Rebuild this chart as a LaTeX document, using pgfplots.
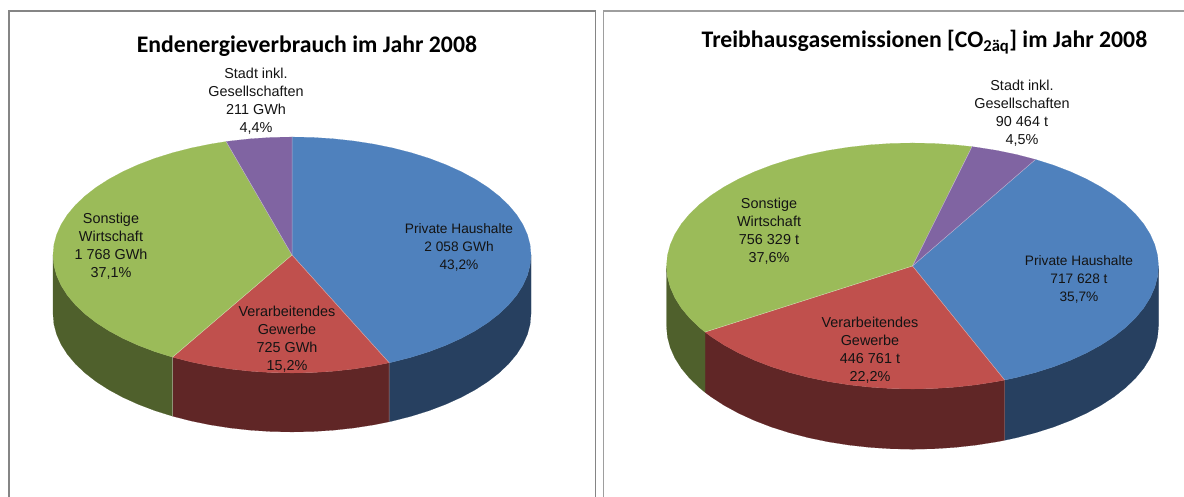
\documentclass[border=0pt]{standalone}
\usepackage{pgfplots}
\pgfplotsset{compat=1.18}
\usepackage{fontspec}
\setmainfont{Liberation Sans}
\newfontfamily\titlefont{Carlito}

\definecolor{cblue}{HTML}{4F81BD}
\definecolor{cred}{HTML}{C0504D}
\definecolor{cgreen}{HTML}{9BBB59}
\definecolor{cviolet}{HTML}{8064A2}
\definecolor{dblue}{RGB}{39,64,96}
\definecolor{dred}{RGB}{96,38,38}
\definecolor{dgreen}{RGB}{79,96,44}

\pgfplotsset{
  pie/.style={
    anchor=center, scale only axis, hide axis, clip=false, no markers,
    xmin=-1, xmax=1, ymin=-1, ymax=1,
  },
  slice/.style={fill=#1, draw=#1, line width=0.1pt},
  edge/.style={draw=white, draw opacity=0.45, line width=0.5pt},
}
\newcommand{\lab}[4][14.4]{\node[align=center, font=\fontsize{#1}{18}\selectfont, text=black!92] at (#2,495.5-#3) {#4};}

\begin{document}
\begin{tikzpicture}[x=1pt,y=1pt]
\path[use as bounding box] (0,0) rectangle (1184,497);
\clip (0,0) rectangle (1184,497);
\fill[white] (0,0) rectangle (1184,497);

% frames
\draw[black!48, line width=1.2pt] (9,-5) rectangle (595.5,486);
\draw[black!38, line width=1.6pt] (603.5,-5) rectangle (1195,486);

% Endenergieverbrauch
\begin{axis}[pie, at={(292pt,242pt)}, width=478pt, height=236pt]
% sides
\addplot[slice=dblue] coordinates {
 (1,0) (.9962,-.0872) (.9848,-.1736) (.9659,-.2588) (.9397,-.3420) (.9063,-.4226) (.8660,-.5) (.8192,-.5736)
 (.7660,-.6428) (.7071,-.7071) (.6428,-.7660) (.5736,-.8192) (.5,-.8660) (.4226,-.9063) (.4067,-.9135)
 (.4067,-1.4135) (.4226,-1.4063) (.5,-1.3660) (.5736,-1.3192) (.6428,-1.2660) (.7071,-1.2071) (.7660,-1.1428)
 (.8192,-1.0736) (.8660,-1.0) (.9063,-.9226) (.9397,-.8420) (.9659,-.7588) (.9848,-.6736) (.9962,-.5872) (1,-.5)
} -- cycle;
\addplot[slice=dred] coordinates {
 (.4067,-.9135) (.3420,-.9397) (.2588,-.9659) (.1736,-.9848) (.0872,-.9962) (0,-1) (-.0872,-.9962) (-.1736,-.9848)
 (-.2588,-.9659) (-.3420,-.9397) (-.4226,-.9063) (-.5,-.8660)
 (-.5,-1.3660) (-.4226,-1.4063) (-.3420,-1.4397) (-.2588,-1.4659) (-.1736,-1.4848) (-.0872,-1.4962) (0,-1.5)
 (.0872,-1.4962) (.1736,-1.4848) (.2588,-1.4659) (.3420,-1.4397) (.4067,-1.4135)
} -- cycle;
\addplot[slice=dgreen] coordinates {
 (-.5,-.8660) (-.5736,-.8192) (-.6428,-.7660) (-.7071,-.7071) (-.7660,-.6428) (-.8192,-.5736) (-.8660,-.5)
 (-.9063,-.4226) (-.9397,-.3420) (-.9659,-.2588) (-.9848,-.1736) (-.9962,-.0872) (-1,0)
 (-1,-.5) (-.9962,-.5872) (-.9848,-.6736) (-.9659,-.7588) (-.9397,-.8420) (-.9063,-.9226) (-.8660,-1.0)
 (-.8192,-1.0736) (-.7660,-1.1428) (-.7071,-1.2071) (-.6428,-1.2660) (-.5736,-1.3192) (-.5,-1.3660)
} -- cycle;
% top
\addplot[slice=cblue] coordinates {
 (0,0) (0,1) (.0872,.9962) (.1736,.9848) (.2588,.9659) (.3420,.9397) (.4226,.9063) (.5,.8660) (.5736,.8192)
 (.6428,.7660) (.7071,.7071) (.7660,.6428) (.8192,.5736) (.8660,.5) (.9063,.4226) (.9397,.3420) (.9659,.2588)
 (.9848,.1736) (.9962,.0872) (1,0) (.9962,-.0872) (.9848,-.1736) (.9659,-.2588) (.9397,-.3420) (.9063,-.4226)
 (.8660,-.5) (.8192,-.5736) (.7660,-.6428) (.7071,-.7071) (.6428,-.7660) (.5736,-.8192) (.5,-.8660)
 (.4226,-.9063) (.4067,-.9135)
} -- cycle;
\addplot[slice=cred] coordinates {
 (0,0) (.4067,-.9135) (.3420,-.9397) (.2588,-.9659) (.1736,-.9848) (.0872,-.9962) (0,-1) (-.0872,-.9962)
 (-.1736,-.9848) (-.2588,-.9659) (-.3420,-.9397) (-.4226,-.9063) (-.5,-.8660)
} -- cycle;
\addplot[slice=cgreen] coordinates {
 (0,0) (-.5,-.8660) (-.5736,-.8192) (-.6428,-.7660) (-.7071,-.7071) (-.7660,-.6428) (-.8192,-.5736) (-.8660,-.5)
 (-.9063,-.4226) (-.9397,-.3420) (-.9659,-.2588) (-.9848,-.1736) (-.9962,-.0872) (-1,0) (-.9962,.0872)
 (-.9848,.1736) (-.9659,.2588) (-.9397,.3420) (-.9063,.4226) (-.8660,.5) (-.8192,.5736) (-.7660,.6428)
 (-.7071,.7071) (-.6428,.7660) (-.5736,.8192) (-.5,.8660) (-.4226,.9063) (-.3420,.9397) (-.2756,.9613)
} -- cycle;
\addplot[slice=cviolet] coordinates {
 (0,0) (-.2756,.9613) (-.2588,.9659) (-.1736,.9848) (-.0872,.9962) (0,1)
} -- cycle;
% slice edges
\addplot[edge] coordinates {(0,1) (0,0) (.4067,-.9135) (.4067,-1.4135)};
\addplot[edge] coordinates {(0,0) (-.5,-.8660) (-.5,-1.3660)};
\addplot[edge] coordinates {(0,0) (-.2756,.9613)};
\end{axis}

% Treibhausgasemissionen
\begin{axis}[pie, at={(912.5pt,231pt)}, width=492pt, height=246pt]
% sides
\addplot[slice=dblue] coordinates {
 (1,0) (.9962,-.0872) (.9848,-.1736) (.9659,-.2588) (.9397,-.3420) (.9063,-.4226) (.8660,-.5) (.8192,-.5736)
 (.7660,-.6428) (.7071,-.7071) (.6428,-.7660) (.5736,-.8192) (.5,-.8660) (.4226,-.9063) (.3746,-.9272)
 (.3746,-1.4172) (.4226,-1.3963) (.5,-1.3560) (.5736,-1.3092) (.6428,-1.2560) (.7071,-1.1971) (.7660,-1.1328)
 (.8192,-1.0636) (.8660,-.99) (.9063,-.9126) (.9397,-.8320) (.9659,-.7488) (.9848,-.6636) (.9962,-.5772) (1,-.49)
} -- cycle;
\addplot[slice=dred] coordinates {
 (.3746,-.9272) (.3420,-.9397) (.2588,-.9659) (.1736,-.9848) (.0872,-.9962) (0,-1) (-.0872,-.9962) (-.1736,-.9848)
 (-.2588,-.9659) (-.3420,-.9397) (-.4226,-.9063) (-.5,-.8660) (-.5736,-.8192) (-.6428,-.7660) (-.7071,-.7071)
 (-.7660,-.6428) (-.8192,-.5736) (-.8434,-.5373)
 (-.8434,-1.0273) (-.8192,-1.0636) (-.7660,-1.1328) (-.7071,-1.1971) (-.6428,-1.2560) (-.5736,-1.3092) (-.5,-1.3560)
 (-.4226,-1.3963) (-.3420,-1.4297) (-.2588,-1.4559) (-.1736,-1.4748) (-.0872,-1.4862) (0,-1.49) (.0872,-1.4862)
 (.1736,-1.4748) (.2588,-1.4559) (.3420,-1.4297) (.3746,-1.4172)
} -- cycle;
\addplot[slice=dgreen] coordinates {
 (-.8434,-.5373) (-.8660,-.5) (-.9063,-.4226) (-.9397,-.3420) (-.9659,-.2588) (-.9848,-.1736) (-.9962,-.0872) (-1,0)
 (-1,-.49) (-.9962,-.5772) (-.9848,-.6636) (-.9659,-.7488) (-.9397,-.8320) (-.9063,-.9126) (-.8660,-.99) (-.8434,-1.0273)
} -- cycle;
% top
\addplot[slice=cblue] coordinates {
 (0,0) (.5,.8660) (.5736,.8192) (.6428,.7660) (.7071,.7071) (.7660,.6428) (.8192,.5736) (.8660,.5) (.9063,.4226)
 (.9397,.3420) (.9659,.2588) (.9848,.1736) (.9962,.0872) (1,0) (.9962,-.0872) (.9848,-.1736) (.9659,-.2588)
 (.9397,-.3420) (.9063,-.4226) (.8660,-.5) (.8192,-.5736) (.7660,-.6428) (.7071,-.7071) (.6428,-.7660)
 (.5736,-.8192) (.5,-.8660) (.4226,-.9063) (.3746,-.9272)
} -- cycle;
\addplot[slice=cred] coordinates {
 (0,0) (.3746,-.9272) (.3420,-.9397) (.2588,-.9659) (.1736,-.9848) (.0872,-.9962) (0,-1) (-.0872,-.9962) (-.1736,-.9848)
 (-.2588,-.9659) (-.3420,-.9397) (-.4226,-.9063) (-.5,-.8660) (-.5736,-.8192) (-.6428,-.7660) (-.7071,-.7071)
 (-.7660,-.6428) (-.8192,-.5736) (-.8434,-.5373)
} -- cycle;
\addplot[slice=cgreen] coordinates {
 (0,0) (-.8434,-.5373) (-.8660,-.5) (-.9063,-.4226) (-.9397,-.3420) (-.9659,-.2588) (-.9848,-.1736) (-.9962,-.0872)
 (-1,0) (-.9962,.0872) (-.9848,.1736) (-.9659,.2588) (-.9397,.3420) (-.9063,.4226) (-.8660,.5) (-.8192,.5736)
 (-.7660,.6428) (-.7071,.7071) (-.6428,.7660) (-.5736,.8192) (-.5,.8660) (-.4226,.9063) (-.3420,.9397) (-.2588,.9659)
 (-.1736,.9848) (-.0872,.9962) (0,1) (.0872,.9962) (.1736,.9848) (.2419,.9703)
} -- cycle;
\addplot[slice=cviolet] coordinates {
 (0,0) (.2419,.9703) (.2588,.9659) (.3420,.9397) (.4226,.9063) (.5,.8660)
} -- cycle;
% slice edges
\addplot[edge] coordinates {(.5,.8660) (0,0) (.3746,-.9272)};
\addplot[edge] coordinates {(0,0) (-.8434,-.5373)};
\addplot[edge] coordinates {(0,0) (.2419,.9703)};
\end{axis}

% titles
\node[font=\titlefont\bfseries\fontsize{23.75}{28}\selectfont] at (307,497-46) {Endenergieverbrauch im Jahr 2008};
\node[font=\titlefont\bfseries\fontsize{23.75}{28}\selectfont] at (924.5,497-42) {Treibhausgasemissionen [CO\textsubscript{2äq}] im Jahr 2008};

% data labels
\lab{256}{100}{Stadt inkl.\\Gesellschaften\\211 GWh\\4,4\%}
\lab[13.7]{459}{246}{Private Haushalte\\2 058 GWh\\43,2\%}
\lab{111}{245}{Sonstige\\Wirtschaft\\1 768 GWh\\37,1\%}
\lab{287}{338}{Verarbeitendes\\Gewerbe\\725 GWh\\15,2\%}
\lab{1022}{112}{Stadt inkl.\\Gesellschaften\\90 464 t\\4,5\%}
\lab[13.7]{1079}{278}{Private Haushalte\\717 628 t\\35,7\%}
\lab{769}{230}{Sonstige\\Wirtschaft\\756 329 t\\37,6\%}
\lab{870}{349}{Verarbeitendes\\Gewerbe\\446 761 t\\22,2\%}
\end{tikzpicture}
\end{document}
